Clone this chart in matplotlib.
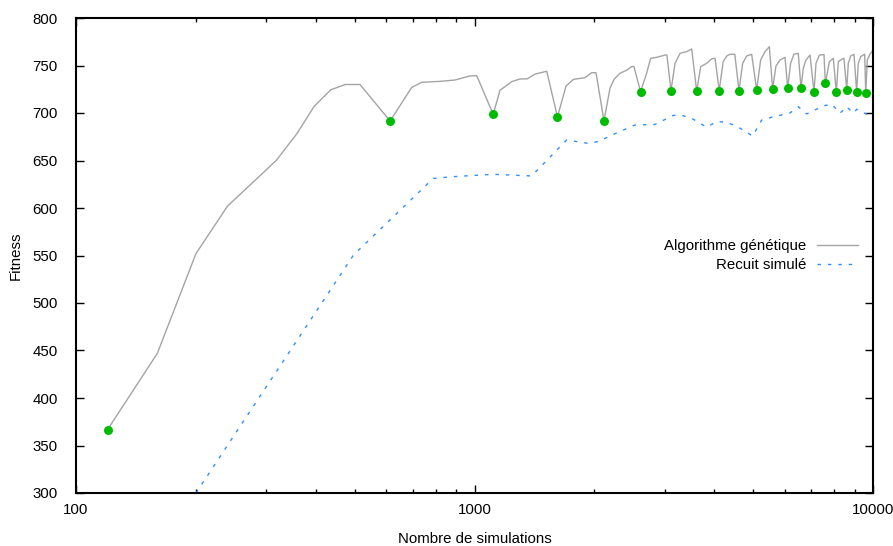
import matplotlib
matplotlib.use("Agg")
import matplotlib.pyplot as plt
import matplotlib.ticker as ticker

plt.rcParams["font.family"] = ["Liberation Sans", "DejaVu Sans"]

# ── données ──────────────────────────────────────────────────────
# Algorithme génétique (courbe grise)
ga_x = [120, 160, 200, 240, 318, 358, 396, 436, 474, 516,
        614, 696, 737, 819, 893, 974, 1013,
        1114, 1159, 1240, 1300, 1357, 1419, 1518,
        1615, 1697, 1771, 1894, 1968, 2018,
        2113, 2188, 2239, 2317, 2408, 2478, 2512,
        2610, 2695, 2768, 2865, 3006, 3040,
        3112, 3186, 3280, 3407, 3508,
        3610, 3695, 3825, 3937, 4014,
        4112, 4207, 4295, 4375, 4500,
        4610, 4709, 4819, 4961,
        5106, 5224, 5356, 5494,
        5598, 5709, 5843, 6014,
        6110, 6212, 6334, 6493,
        6597, 6683, 6789, 6950,
        7112, 7194, 7334, 7534,
        7594, 7771, 7952,
        8090, 8185, 8343, 8454,
        8590, 8670, 8790, 8960,
        9100, 9183, 9311, 9530,
        9590, 9676, 9828, 9982]
ga_y = [366.7, 447, 552, 602, 650, 678, 707, 724.5, 730, 730,
        691.6, 727, 732.3, 733.3, 734.7, 739, 739.3,
        698.6, 724, 733, 735.8, 736, 741, 743.9,
        696, 728.4, 735.4, 737.2, 742.4, 742.4,
        691.9, 726, 735.4, 741.8, 745, 748.8, 749,
        722.4, 740, 757.6, 758.6, 761, 761,
        723.5, 752.3, 762.8, 764.6, 767.4,
        723, 748.8, 752.3, 757, 757.6,
        723.5, 754, 760, 761.8, 761.8,
        723.5, 752.3, 760, 761.8,
        724.2, 755.8, 764.5, 769.8,
        725.6, 749.5, 755.8, 758.6,
        726, 752.3, 762, 762.8,
        726, 747, 755.8, 761,
        722, 752.3, 761, 761.4,
        731.2, 754, 757.6,
        722, 754, 756.5, 757.6,
        724.2, 752.3, 760, 761.8,
        722, 752.3, 759.3, 762,
        721, 755.8, 762, 765.6]

# points de redémarrage (marqueurs verts)
restart_x = [120, 614, 1114, 1615, 2113, 2610, 3112, 3610, 4112, 4610,
             5106, 5598, 6110, 6597, 7112, 7594, 8090, 8590, 9100, 9590]
restart_y = [366.7, 691.6, 698.6, 696, 691.9, 722.4, 723.5, 723, 723.5, 723.5,
             724.2, 725.6, 726, 726, 722, 731.2, 722, 724.2, 722, 721]

# Recuit simulé (courbe bleue pointillée)
rs_x = [200, 497, 788, 885, 1114, 1391, 1703, 1931, 2045, 2274, 2528,
        2838, 3156, 3312, 3508, 3825, 4051, 4295, 4571, 4990, 5256,
        5623, 6190, 6494, 6817, 7506, 7877, 8260, 8590, 8925, 9110,
        9600, 9950]
rs_y = [300, 550.5, 631.2, 633, 635.5, 633.7, 671.6, 668, 670, 679, 687.4,
        688, 697.5, 697.6, 694.4, 685, 691, 690.2, 685.6, 675.8, 692.6,
        696, 700, 706.6, 699, 707.4, 709.5, 699.7, 706.6, 699.7, 704,
        699, 700]

# ── figure ───────────────────────────────────────────────────────
FS = 10.8
fig = plt.figure(figsize=(8.93, 5.46), dpi=100)
ax = fig.add_axes([76 / 893, 1 - 493 / 546, 797 / 893, 475 / 546])

ax.plot(ga_x, ga_y, color="#a4a4a4", linewidth=1.0, label="Algorithme génétique")
ax.plot(rs_x, rs_y, color="#2f8fff", linewidth=1.0, dashes=(2.5, 5),
        label="Recuit simulé")
ax.plot(restart_x, restart_y, linestyle="none", marker="o", markersize=6.5,
        color="#00bb00", markeredgewidth=0)

ax.set_xscale("log")
ax.set_xlim(100, 10000)
ax.set_ylim(300, 800)
ax.yaxis.set_major_locator(ticker.MultipleLocator(50))
ax.xaxis.set_major_formatter(ticker.FuncFormatter(lambda v, _: f"{v:.0f}"))
ax.xaxis.set_minor_formatter(ticker.NullFormatter())

ax.tick_params(which="both", direction="in", top=True, right=True,
               labelsize=FS, width=1.0)
ax.tick_params(which="major", length=6)
ax.tick_params(which="minor", length=3)
ax.tick_params(axis="x", which="major", pad=7)
ax.tick_params(axis="y", which="major", pad=13)
for s in ax.spines.values():
    s.set_linewidth(1.5)

ax.set_xlabel("Nombre de simulations", fontsize=FS, labelpad=11)
ax.set_ylabel("Fitness", fontsize=FS, labelpad=7)

ax.legend(loc="upper right", bbox_to_anchor=(0.99, 0.55), frameon=False,
          markerfirst=False, fontsize=FS, handlelength=2.7,
          handletextpad=0.7, labelspacing=0.3, borderpad=0)

plt.savefig("out.png", dpi=100)
plt.close()
